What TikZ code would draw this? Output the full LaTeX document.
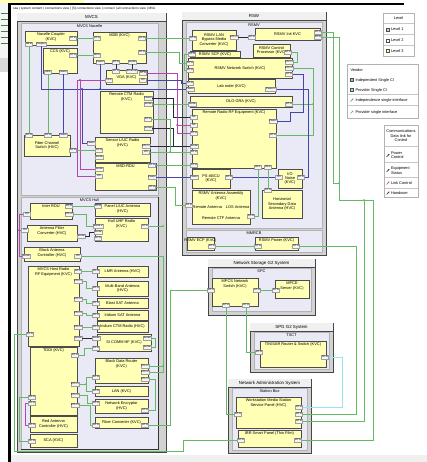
\documentclass[tikz,border=0pt]{standalone}
\usepackage{fontspec}
\setmainfont{Liberation Sans}
\usetikzlibrary{arrows.meta}
\definecolor{gw}{RGB}{100,186,100}
\definecolor{bw}{RGB}{70,70,170}
\definecolor{mw}{RGB}{180,70,180}
\definecolor{cw}{RGB}{150,228,240}
\definecolor{kw}{RGB}{40,40,60}
\definecolor{boxy}{RGB}{255,255,182}
\definecolor{lav}{RGB}{234,234,247}
\definecolor{grpg}{RGB}{210,210,210}
\tikzset{
 grp/.style={draw=gray!55!black,fill=grpg,line width=0.7pt,inner sep=0,outer sep=0},
 inbox/.style={draw=gray!60,fill=lav,line width=0.4pt,inner sep=0,outer sep=0},
 blk/.style={draw=black!70,fill=boxy,line width=0.5pt,inner sep=0,outer sep=0},
 lbl/.style={font=\fontsize{3.9}{4.4}\selectfont,align=center,inner sep=0.3pt},
 glbl/.style={font=\fontsize{4.4}{5}\selectfont,inner sep=0.3pt},
 port/.style={draw=gray!75,fill=gray!8,font=\fontsize{2.7}{3}\selectfont,inner sep=0.4pt,minimum height=4pt,minimum width=7pt,line width=0.35pt},
 wire/.style={line width=0.7pt},
 gwire/.style={wire,draw=gw},
 bwire/.style={wire,draw=bw},
 mwire/.style={wire,draw=mw},
 kwire/.style={wire,draw=kw},
 cwire/.style={wire,draw=cw},
 legbox/.style={draw=gray!60,fill=white,anchor=north west,inner sep=0,line width=0.5pt},
 sq/.style={draw=gray!60!black,minimum size=3pt,inner sep=0,line width=0.3pt},
 legarrow/.style={-{Stealth[length=1.8pt,width=1.6pt]},line width=0.5pt},
 legdiv/.style={gray!45,line width=1pt}
}
\newcommand\mybox[6]{%
 \node[blk,anchor=north west,minimum width={(#4-#2)*1pt},minimum height={(#5-#3)*1pt}] (#1) at (#2,#3) {};
 \node[lbl,anchor=north] (#1-t) at ([yshift=-1.5pt]#1.north) {#6};}
\newcommand\myboxc[6]{%
 \node[blk,anchor=north west,minimum width={(#4-#2)*1pt},minimum height={(#5-#3)*1pt}] (#1) at (#2,#3) {};
 \node[lbl] (#1-t) at (#1.center) {#6};}
\newcommand\mygroup[6]{%
 \node[grp,anchor=north west,minimum width={(#4-#2)*1pt},minimum height={(#5-#3)*1pt}] (#1) at (#2,#3) {};
 \fill[gray!12] ([xshift=0.4pt,yshift=-0.4pt]#1.north west) rectangle ([xshift=-0.4pt,yshift=-8pt]#1.north east);
 \draw[gray!55!black,line width=0.4pt] ([yshift=-8pt]#1.north west) -- ([yshift=-8pt]#1.north east);
 \node[glbl] (#1-t) at ([yshift=-4pt]#1.north) {#6};}
\newcommand\myinner[6]{%
 \node[inbox,anchor=north west,minimum width={(#4-#2)*1pt},minimum height={(#5-#3)*1pt}] (#1) at (#2,#3) {};
 \node[lbl] (#1-t) at ([yshift=-3.5pt]#1.north) {#6};}
\newcommand\myport[4]{\node[port] (#1) at (#2,#3) {#4};}
\begin{document}
\begin{tikzpicture}[x=1pt,y=-1pt]
\useasboundingbox (0,0) rectangle (427,462);
\fill[white] (0,0) rectangle (427,462);
% window behind
\fill[boxy] (0,0) rectangle (84,3);
\fill[gray!8] (0,3) rectangle (9,58);
\foreach \yy in {13,19,25,31,37,43} {\draw[gw!70!black,line width=0.3pt] (1,\yy) -- (8,\yy);}
\fill[gray!30] (0,58) rectangle (9,72);
% frame
\draw[black,line width=2.2pt] (9.5,462) -- (9.5,4) -- (404,4);
\fill[gray!12] (11,455) rectangle (427,462);
\node[font=\fontsize{3.2}{3.7}\selectfont,anchor=west,inner sep=0] (title) at (13,8.5) {ssa | system content | connections view | [S] connections view | connect | all connections view | MVA};

% ===== groups
\mygroup{mvcs}{17}{13}{166}{452}{MVCS}
\myinner{nac}{21}{23}{158}{195}{MVCS Nacelle}
\myinner{hull}{21}{197}{158}{449}{MVCS Hull}
\draw[black!80,line width=0.6pt] (hull.north east) -- (hull.south east) -- (hull.south west);
\mygroup{rsw}{182}{12}{326}{255}{RSW}
\myinner{rsmv}{186}{22}{322}{228}{RSMV}
\myinner{mmrcb}{186}{230}{322}{252}{MMRCB}
\mygroup{nsg}{208}{259}{315}{315}{Network Storage G2 System}
\myinner{spc}{212}{268}{311}{311}{SPC}
\mygroup{spg}{250}{323}{333}{372}{SPG G2 System}
\myinner{tsct}{254}{332}{329}{369}{TSCT}
\mygroup{nas}{228}{379}{311}{453}{Network Administration System}
\myinner{stb}{232}{388}{307}{450}{Station Box}

% ===== MVCS Nacelle
\mybox{n1}{25}{31}{77}{45}{Nacelle Coupler\\(KVC)}
\myport{n1e}{73}{38}{ETH}
\myport{n1s1}{29}{44}{MPD}
\myport{n1s2}{41}{44}{Coupler}
\mybox{n2}{43}{48}{77}{73}{CCS (KVC)}
\myport{n2e}{73}{55}{ETH}
\myport{n2s}{48}{72}{SRC}
\myport{n2p}{63}{72}{Power}
\mybox{n3}{93}{32}{146}{63}{MDB (KVC)}
\myport{n3w1}{97}{38}{ETH}
\myport{n3w2}{97}{55}{MPS}
\myport{n3s1}{100}{62}{Power}
\myport{n3s2}{116}{62}{ETH}
\myport{n3s3}{132}{62}{Serial}
\myport{n3e1}{142}{38}{ETH}
\myport{n3e2}{142}{52}{ETH}
\myboxc{n4}{106}{70}{147}{84}{VGA (KVC)}
\myport{n4n1}{116}{71}{ETH}
\myport{n4n2}{132}{71}{Ethernet}
\myport{n4w}{109}{80}{VCC}
\myport{n4e1}{143}{73}{ETH}
\myport{n4e2}{143}{80}{I/O}
\mybox{n5}{100}{91}{153}{133}{Remote CTM Radio\\(KVC)}
\myport{n5e1}{148}{98}{Power}
\myport{n5e2}{148}{104}{Serial}
\myport{n5e3}{148}{119}{ETH}
\myport{n5e4}{148}{128}{Serial}
\myboxc{n6}{24}{135}{70}{156}{Fiber Channel\\Switch (HVC)}
\myport{n6n1}{29}{135}{ETH}
\myport{n6n2}{48}{135}{ETH}
\myport{n6n3}{63}{135}{Power}
\myport{n6e}{73}{150}{ETH}
\mybox{n7}{95}{137}{150}{162}{Sensor L/UC Radio\\(HVC)}
\myport{n7w1}{91}{143}{Power}
\myport{n7w2}{99}{150}{ETH}
\myport{n7w3}{99}{157}{Serial}
\myport{n7e1}{146}{146}{ETH 1}
\myport{n7e2}{146}{152}{I/O}
\mybox{n8}{95}{163}{156}{190}{MSD-RDU}
\myport{n8w1}{99}{169}{Serial}
\myport{n8w2}{99}{176}{I/O}
\myport{n8e1}{152}{165}{ETH}
\myport{n8e2}{152}{177}{Power}
\myport{n8e3}{152}{187}{ETH}

% ===== MVCS Hull
\mybox{h1}{30}{203}{72}{219}{Inter RDU}
\myport{h1e1}{69}{206}{ETH}
\myport{h1e2}{69}{214}{ETH 2}
\myport{h1w}{27}{214}{I/O}
\mybox{h2}{95}{203}{150}{216}{Panel L/UC Antenna\\(HVC)}
\myport{h2w}{98}{206}{ETH}
\mybox{h3}{95}{218}{148}{241}{Hull UHF Radio\\(KVC)}
\myport{h3w1}{98}{226}{Serial 2}
\myport{h3w2}{98}{232}{Serial}
\myport{h3w3}{98}{238}{ETH}
\myport{h3e}{145}{226}{ETH}
\mybox{h4}{27}{225}{77}{241}{Antenna Filter\\Converter (HVC)}
\myport{h4w}{25}{230}{I/O}
\myport{h4e}{81}{236}{Serial}
\mybox{h5}{24}{247}{80}{261}{Black Antenna\\Controller (HVC)}
\myport{h5w}{26}{256}{Serial}
\myport{h5e}{78}{256}{I/O}
\mybox{h6}{28}{266}{79}{346}{MVCS Host Radio\\RF Equipment (KVC)}
\myport{h6e1}{78}{271}{ETH}
\myport{h6e2}{78}{281}{ETH 1}
\myport{h6e3}{78}{299}{ETH 2}
\myport{h6e4}{78}{313}{ETH 3}
\myport{h6e5}{78}{327}{ETH 4}
\myport{h6e6}{78}{338}{Serial}
\myport{h6w}{30}{334}{ETH}
\myboxc{h7}{97}{266}{148}{277}{LMR Antenna (HVC)}
\myport{h7w}{96}{271}{ETH}
\myboxc{h8}{97}{281}{148}{296}{Multi-Band Antenna\\(HVC)}
\myport{h8w}{96}{288}{ETH}
\myboxc{h9}{97}{298}{148}{308}{Blast SAT Antenna}
\myport{h9w}{96}{303}{ETH}
\myboxc{h10}{97}{310}{148}{320}{Iridium SAT Antenna}
\myport{h10w}{96}{315}{ETH}
\myboxc{h11}{97}{321}{148}{332}{Iridium CTM Radio (HVC)}
\myport{h11w}{96}{327}{ETH}
\myboxc{h12}{97}{334}{151}{351}{SI COMM HF (KVC)}
\myport{h12w}{96}{338}{Serial}
\myport{h12s}{96}{348}{ETH}
\myport{h12e1}{147}{338}{Serial}
\myport{h12e2}{147}{347}{Serial}
\mybox{h13}{30}{347}{77}{415}{TDDI (KVC)}
\myport{h13e1}{75}{355}{ETH}
\myport{h13e2}{75}{384}{ETH 1}
\myport{h13e3}{75}{395}{ETH 2}
\myport{h13e4}{75}{405}{ETH 3}
\myport{h13w1}{32}{397}{ETH}
\myport{h13w2}{32}{403}{ETH}
\mybox{h14}{95}{358}{148}{383}{Black Data Router\\(KVC)}
\myport{h14w}{96}{377}{ETH}
\myport{h14e1}{145}{366}{ETH 1}
\myport{h14e2}{145}{372}{ETH 2}
\myport{h14e3}{145}{379}{ETH 3}
\myboxc{h15}{95}{386}{148}{396}{LAN (KVC)}
\myport{h15w}{96}{391}{ETH}
\myboxc{h16}{95}{399}{148}{413}{Network Encryptor\\(HVC)}
\myport{h16w}{96}{403}{ETH}
\myport{h16e}{145}{410}{ETH}
\myboxc{h17}{95}{417}{148}{428}{Fiber Converter (KVC)}
\myport{h17w}{96}{425}{ETH}
\myport{h17e}{145}{425}{ETH}
\myboxc{h18}{30}{416}{77}{432}{Red Antenna\\Controller (HVC)}
\myport{h18w}{32}{425}{ETH}
\myboxc{h19}{30}{434}{77}{447}{SCA (KVC)}
\myport{h19w}{32}{441}{ETH}

% ===== RSW
\myboxc{r1}{192}{30}{236}{50}{RSMV LAN\\Bypass Media\\Converter (KVC)}
\myport{r1w}{193}{38}{ETH}
\myport{r1e}{234}{37}{ETH 2}
\myboxc{r2}{255}{28}{320}{40}{RSMV Init KVC}
\myport{r2w}{252}{37}{ETH}
\myport{r2e1}{318}{32}{ETH}
\myport{r2e2}{318}{37}{ETH}
\myboxc{r3}{190}{51}{240}{57}{RSMV SCP (KVC)}
\myport{r3w}{192}{54}{ETH}
\myboxc{r4}{253}{44}{290}{57}{RSMV Control\\Processor (KVC)}
\myport{r4e}{288}{52}{ETH}
\myboxc{r5}{188}{58}{292}{78}{RSMV Network Switch (KVC)}
\myport{r5w1}{190}{63}{ETH}
\myport{r5w2}{190}{70}{ETH}
\myport{r5e1}{289}{62}{ETH 1}
\myport{r5e2}{289}{68}{ETH 2}
\myport{r5e3}{289}{74}{ETH}
\myboxc{r6}{188}{79}{275}{93}{Lab order (KVC)}
\myport{r6w1}{190}{83}{ETH}
\myport{r6w2}{190}{89}{Power}
\myport{r6e}{271}{89}{Power 2}
\myboxc{r7}{190}{96}{292}{107}{DLO-GRA (KVC)}
\myport{r7w}{192}{104}{Serial}
\myport{r7e}{289}{104}{ETH}
\mybox{r8}{192}{109}{276}{168}{Remote Radio RF Equipment (KVC)}
\myport{r8w1}{194}{117}{RF}
\myport{r8w2}{194}{125}{RF}
\myport{r8w3}{194}{133}{ETH}
\myport{r8w4}{194}{146}{Serial}
\myport{r8w5}{194}{152}{ETH}
\myport{r8w6}{194}{165}{ETH}
\myport{r8e1}{273}{121}{Power}
\myport{r8e2}{273}{135}{ETH}
\myport{r8s1}{258}{167}{RF1}
\myport{r8s2}{268}{167}{RF2}
\myboxc{r9}{192}{169}{230}{188}{PS-ABCU\\(KVC)}
\myport{r9w}{194}{177}{Power}
\myport{r9e}{229}{177}{ETH}
\myboxc{r10}{278}{169}{302}{188}{I/O\\Noise\\(KVC)}
\myport{r10w}{279}{177}{I/O}
\myport{r10e}{301}{177}{ETH}
\mybox{r11}{192}{190}{250}{224}{RSMV Antenna Assembly\\(KVC)}
\node[lbl] (r11a) at (221,207) {Remote Antenna\quad LOS Antenna};
\node[lbl] (r11b) at (221,218) {Remote CTF Antenna};
\myport{r11w}{189}{205}{ETH}
\myport{r11e}{251}{216}{ETH}
\myboxc{r12}{262}{190}{302}{218}{Horizontal\\Secondary Data\\Antenna (HVC)}
\myport{r12n}{268}{190}{ETH}
\mybox{r13}{187}{237}{214}{250}{RSMV ECP (KVC)}
\myport{r13e}{212}{246}{ETH}
\mybox{r14}{255}{237}{298}{250}{RSMV Power (KVC)}
\myport{r14w}{258}{246}{ETH}
\myport{r14e}{296}{246}{ETH}

% ===== storage / SPG / admin
\mybox{s1}{212}{278}{258}{306}{MPCS Network\\Switch (KVC)}
\myport{s1w}{211}{290}{ETH}
\myport{s1e}{257}{290}{ETH}
\myport{s1s1}{226}{305}{ETH}
\myport{s1s2}{246}{305}{ETH}
\mybox{s2}{275}{280}{309}{298}{MPCE\\Server (KVC)}
\myport{s2w}{276}{290}{ETH}
\mybox{t1}{260}{341}{326}{367}{TIN/SAR Router \& Switch (KVC)}
\myport{t1w}{259}{352}{ETH}
\myport{t1e}{325}{357}{ETH}
\mybox{a1}{236}{397}{301}{428}{Workstation Media Station\\Service Panel (HVC)}
\myport{a1w}{238}{414}{ETH}
\myport{a1e1}{299}{407}{ETH}
\myport{a1e2}{299}{414}{ETH}
\myport{a1e3}{299}{421}{ETH}
\mybox{a2}{238}{430}{301}{447}{IBR Smart Panel (Thin Film)}
\myport{a2w}{241}{440}{ETH}
\myport{a2e}{298}{440}{ETH}

% ===== wires: nacelle
\draw[gwire] (n1e) -- (n3w1);
\draw[gwire] (n2e) -- (n3w2);
\draw[gwire] (n1s1.south) -- (n6n1.north);
\draw[gwire] (n2s.south) -- (n6n2.north);
\draw[bwire] (n2p.south) -- (n6n3.north);
\draw[bwire] (n1s2.south) |- (r6w2.west);
\draw[bwire] (n3s1.south) -- (100,89);
\draw[bwire] (82,89) |- (n7w1.west);
\draw[kwire] (n3s2) -- (n4n1);
\draw[kwire] (n3s3) -- (n4n2);
\draw[mwire] (n4w.west) -| (77,176) -- (n8w2.west);
\draw[mwire] (80,80) |- (n8w1.west);
\draw[gwire] (n6e) -- (n7w2);
% nacelle to RSW
\draw[gwire] (n3e1) -- (r1w);
\draw[gwire] (n3e2.east) -| (179,63) -- (r5w1.west);
\draw[gwire] (r3w.west) -| (184,70) -- (r5w2.west);
\draw[kwire] (r1e) -- (r2w);
\draw[gwire] (r4e.east) -| (297,62) -- (r5e1.east);
\draw[gwire] (r5e2.east) -| (313,135) -- (r8e2.east);
\draw[gwire] (r7e.east) -- (313,104);
\draw[bwire] (r5e3.east) -| (303,112) -| (290,121) -- (r8e1.east);
\draw[bwire] (r6e.east) -| (308,177) -- (r10e.east);
\draw[bwire] (n8e2) -- (r9w);
\draw[bwire] (r9e) -- (r10w);
\draw[gwire] (n5e2) -- (r7w);
\draw[kwire] (n5e1.east) -| (173,117) -- (r8w1.west);
\draw[mwire] (n4e1.east) -| (177,133) -- (r8w3.west);
\draw[mwire] (177,125) -- (r8w2.west);
\draw[bwire] (n4e2.east) -| (181,83) -- (r6w1.west);
\draw[kwire] (n5e4.east) -| (173,146) -- (r8w4.west);
\draw[kwire] (n7e1) -- (r8w4);
\draw[gwire] (n5e3.east) -| (170,152);
\draw[gwire] (n7e2) -- (r8w5);
\draw[gwire] (n8e1) -- (r8w6);
\draw[gwire] (n8e3.east) -| (175,205) -- (r11w.west);
\draw[gwire] (r8s1.south) |- (r11e.east);
\draw[gwire] (r8s2) -- (r12n);
\draw[gwire] (r13e) -- (r14w);
% right side long runs
\draw[gwire] (r2e1.east) -| (333,183) -- (339,183);
\draw[gwire] (r2e2.east) -| (339,200) -- (373,200) |- (a2e.east);
\draw[gwire] (364,200) |- (a1e3.east);
\draw[gwire] (r14e.east) -| (356,414) -- (a1e2.east);
\draw[cwire] (t1e.east) -| (342,407) -- (a1e1.east);
\draw[gwire] (s1e) -- (s2w);
\draw[gwire] (s1s2.south) |- (t1w.west);
\draw[gwire] (s1s1.south) |- (a1w.west);
\draw[gwire] (s1w.west) -| (170,425) -- (h17e.east);
\draw[gwire] (a2w.west) -| (183,451) -- (14,451) |- (h6w.west);
% hull
\draw[gwire] (h1e1) -- (h2w);
\draw[gwire] (h1e2.east) -| (86,226) -- (h3w1.west);
\draw[kwire] (h4e.east) -| (89,232) -- (h3w2.west);
\draw[mwire] (h1w.west) -| (19,256) -- (h5w.west);
\draw[mwire] (19,230) -- (h4w.west);
\draw[gwire] (h5e.east) -| (163,372) -- (h14e2.east);
\draw[gwire] (163,366) -- (h14e1.east);
\draw[gwire] (h3e.east) -- (163,226);
\draw[gwire] (h6e1) -- (h7w);
\draw[gwire] (h6e2.east) -| (86,288) -- (h8w.west);
\draw[gwire] (h6e3.east) -| (86,303) -- (h9w.west);
\draw[gwire] (h6e4.east) -| (86,315) -- (h10w.west);
\draw[gwire] (h6e5) -- (h11w);
\draw[kwire] (h6e6) -- (h12w);
\draw[gwire] (h12e1.east) -| (155,347) -- (h12e2.east);
\draw[gwire] (h13e1.east) -| (84,348) -- (h12s.west);
\draw[gwire] (h14w.west) -| (86,391) -- (h15w.west);
\draw[gwire] (h13e2.east) -- (86,384);
\draw[gwire] (h13e3.east) -| (87,403) -- (h16w.west);
\draw[gwire] (h13e4.east) -| (90,425) -- (h17w.west);
\draw[gwire] (h14e3.east) -| (155,410) -- (h16e.east);
\draw[gwire] (h13w1.west) -| (19,441) -- (h19w.west);
\draw[mwire] (h13w2.west) -| (25,425) -- (h18w.west);
% junction dots
\foreach \p in {(339,183),(364,200),(313,104),(163,226),(163,366),(86,384),(170,152)} {\fill[gw] \p circle (1pt);}
\foreach \p in {(100,89),(82,89)} {\fill[bw] \p circle (1pt);}
\foreach \p in {(177,125),(80,80),(19,230)} {\fill[mw] \p circle (1pt);}

% ===== legends
\node[legbox,minimum width=31pt,minimum height=43pt] (lg1) at (383,13) {};
\node[lbl] (lg1t) at (398.5,18.5) {Level};
\draw[legdiv] (383.5,24) -- (413.5,24);
\draw[legdiv] (383.5,35) -- (413.5,35);
\draw[legdiv] (383.5,46) -- (413.5,46);
\node[sq,fill=grpg] (lg1a) at (388,29.5) {};
\node[lbl,anchor=west] (lg1at) at (390.5,29.5) {Level 1};
\node[sq,fill=white] (lg1b) at (388,40.5) {};
\node[lbl,anchor=west] (lg1bt) at (390.5,40.5) {Level 2};
\node[sq,fill=boxy] (lg1c) at (388,51) {};
\node[lbl,anchor=west] (lg1ct) at (390.5,51) {Level 3};

\node[legbox,minimum width=71pt,minimum height=54pt] (lg2) at (347,64) {};
\node[lbl,anchor=west] (lg2t) at (350,70) {Vendor};
\node[sq,fill=gw!70] (lg2a) at (352,80) {};
\node[lbl,anchor=west] (lg2at) at (355,80) {Independent Single CI};
\node[sq,fill=cw] (lg2b) at (352,90) {};
\node[lbl,anchor=west] (lg2bt) at (355,90) {Provider Single CI};
\draw[legdiv] (347.5,95) -- (417.5,95);
\draw[legarrow,gw!80!black] (350.5,101.5) -- (353.5,98.5);
\node[lbl,anchor=west] (lg2ct) at (355,100) {Independence single interface};
\draw[legdiv] (347.5,106) -- (417.5,106);
\draw[legarrow,cw!70!black] (350.5,113.5) -- (353.5,110.5);
\node[lbl,anchor=west] (lg2dt) at (355,112) {Provider single interface};

\node[legbox,minimum width=34pt,minimum height=72pt] (lg3) at (384,125) {};
\node[lbl] (lg3t) at (401,136) {Communications\\Data link for\\Control};
\draw[legdiv] (384.5,147) -- (417.5,147);
\draw[legarrow,kw] (386.5,157) -- (389.5,154);
\node[lbl,anchor=west,align=left] (lg3a) at (390.5,155) {Power\\Control};
\draw[legdiv] (384.5,163) -- (417.5,163);
\draw[legarrow,kw] (386.5,172) -- (389.5,169);
\node[lbl,anchor=west,align=left] (lg3b) at (390.5,170.5) {Equipment\\Status};
\draw[legdiv] (384.5,178) -- (417.5,178);
\draw[legarrow,mw] (386.5,184.5) -- (389.5,181.5);
\node[lbl,anchor=west] (lg3c) at (390.5,183) {Link Control};
\draw[legdiv] (384.5,188) -- (417.5,188);
\draw[legarrow,kw] (386.5,194.5) -- (389.5,191.5);
\node[lbl,anchor=west] (lg3d) at (390.5,193) {Handover};
\end{tikzpicture}
\end{document}
